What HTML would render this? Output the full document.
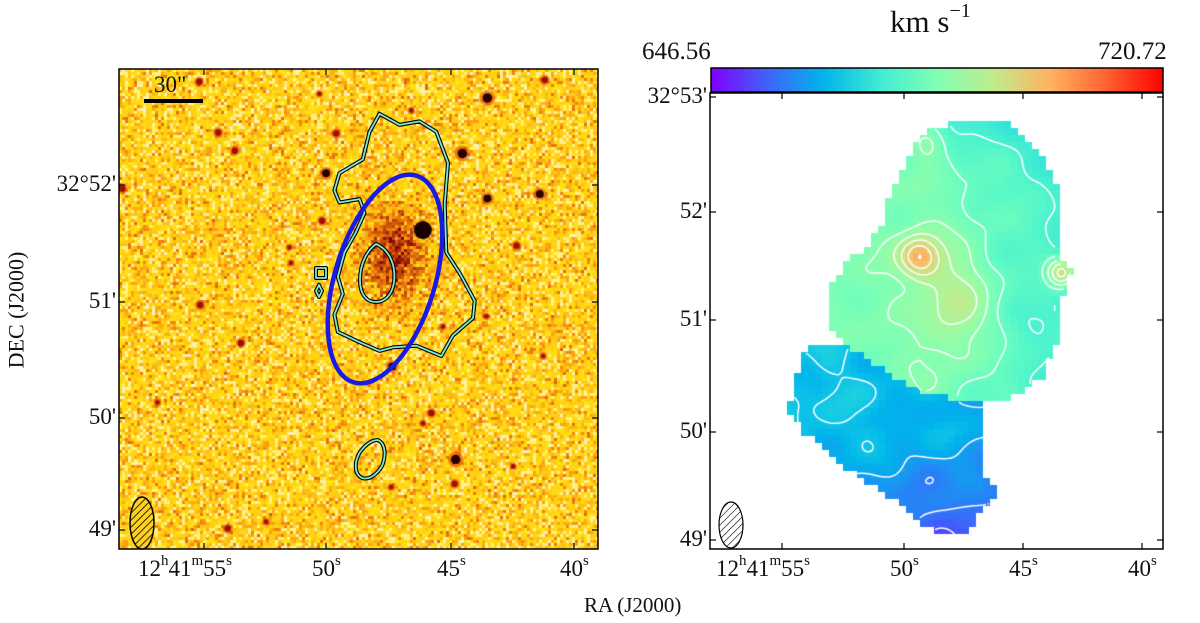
<!DOCTYPE html>
<html><head><meta charset="utf-8"><style>
body{margin:0;background:#fff;width:1200px;height:623px;overflow:hidden;position:relative;font-family:"Liberation Serif",serif;}
.lbl{position:absolute;font-size:23px;color:#111;white-space:nowrap;}
sup{font-size:15px;vertical-align:11px;}
canvas,svg{position:absolute;}
</style></head><body>
<canvas id="optical" width="479" height="480" style="left:119px;top:69px"></canvas>
<canvas id="velmap" width="453" height="456" style="left:710px;top:93px"></canvas>
<svg id="ov" width="1200" height="623" style="left:0;top:0">
<defs>
<pattern id="hatchY" width="5" height="5" patternUnits="userSpaceOnUse" patternTransform="rotate(45)"><rect width="5" height="5" fill="#ffd020"/><line x1="0" y1="0" x2="0" y2="5" stroke="#000" stroke-width="1.6"/></pattern>
<pattern id="hatchW" width="5" height="5" patternUnits="userSpaceOnUse" patternTransform="rotate(45)"><rect width="5" height="5" fill="#fff"/><line x1="0" y1="0" x2="0" y2="5" stroke="#000" stroke-width="1.2"/></pattern>
<linearGradient id="cbar" x1="0" x2="1" y1="0" y2="0">
<stop offset="0" stop-color="#8000ff"/><stop offset="0.125" stop-color="#4062fa"/><stop offset="0.25" stop-color="#00b5eb"/><stop offset="0.375" stop-color="#40ecd4"/><stop offset="0.5" stop-color="#80ffb4"/><stop offset="0.625" stop-color="#c0eb8d"/><stop offset="0.75" stop-color="#ffb360"/><stop offset="0.875" stop-color="#ff6230"/><stop offset="1" stop-color="#ff0000"/>
</linearGradient>
</defs>
<g id="leftover"></g>
<rect x="711" y="68" width="452" height="24" fill="url(#cbar)" stroke="#000" stroke-width="1.5"/>
<rect x="119" y="69" width="479" height="480" fill="none" stroke="#000" stroke-width="1.5"/>
<rect x="710" y="93" width="453" height="456" fill="none" stroke="#000" stroke-width="1.5"/>
<g id="ticks" stroke="#000" stroke-width="1.2"></g>
<ellipse cx="142" cy="523" rx="12" ry="26" fill="url(#hatchY)" stroke="#000" stroke-width="1.5"/>
<ellipse cx="731" cy="525" rx="12" ry="23" fill="url(#hatchW)" stroke="#000" stroke-width="1.2"/>
<line x1="144" y1="101" x2="203" y2="101" stroke="#000" stroke-width="4"/>
</svg>
<div class="lbl" style="left:154px;top:72px;font-size:23px">30"</div>
<div class="lbl" style="left:890px;top:0px;font-size:31px">km s<sup style="font-size:20px;vertical-align:15px">−1</sup></div>
<div class="lbl" style="left:642px;top:38px;font-size:25px">646.56</div>
<div class="lbl" style="left:1098px;top:38px;font-size:25px">720.72</div>
<div class="lbl" style="left:-42px;top:297px;transform:rotate(-90deg);font-size:22px">DEC (J2000)</div>
<div class="lbl" style="left:584px;top:593px;font-size:21px">RA (J2000)</div>
<div id="labels"></div>
<script>
// axis tick definitions
const decLabelsL=["32°52'","51'","50'","49'"];
const decPosL=[185,302,418,530];
const decLabelsR=["32°53'","52'","51'","50'","49'"];
const decPosR=[97,212,320,432,540];
const raLabels=["55","50","45","40"];
const raPosL=[204,326,451,574];
const raPosR=[782,904,1023,1142];

const ticks=document.getElementById('ticks');
const labels=document.getElementById('labels');
function tick(x1,y1,x2,y2){const l=document.createElementNS('http://www.w3.org/2000/svg','line');l.setAttribute('x1',x1);l.setAttribute('y1',y1);l.setAttribute('x2',x2);l.setAttribute('y2',y2);


ticks.appendChild(l);}
function label(html,x,y,name,align){const d=document.createElement('div');d.className='lbl';d.innerHTML=html;d.style.top=y+'px';
if(align==='right'){d.style.right=(1200-x)+'px';}else{d.style.left=x+'px';}


labels.appendChild(d);}
function panelTicks(L,R,T,B,dp,dl,rp){
 dp.forEach((y,i)=>{tick(L,y,L+6,y);tick(R,y,R-6,y);label(dl[i],L-3,y-14,'dec-tick-label','right');});
 rp.forEach((x,i)=>{tick(x,B,x,B-6);tick(x,T,x,T+6);
  const t=i===0?'12<sup>h</sup>41<sup>m</sup>'+raLabels[i]+'<sup>s</sup>':raLabels[i]+'<sup>s</sup>';
  label(t,i===0?x-66:x-14,B+4,'ra-tick-label');});
}
panelTicks(119,598,69,549,decPosL,decLabelsL,raPosL);
panelTicks(710,1163,93,549,decPosR,decLabelsR,raPosR);

// seeded PRNG for image texture
let seed=12345;function rnd(){seed=(seed*1103515245+12345)&0x7fffffff;return seed/0x7fffffff;}
const oc=document.getElementById('optical').getContext('2d');
const zl=(zx,zy)=>[(zx-60)*0.334,(zy-28)*0.345];
const stars=[[1163,112,6],[1088,273,6],[1163,403,5],[1320,390,5],[680,330,5],[668,468,4],[710,215,4],[357,212,4],[407,265,4],[1250,540,4],[303,712,4],[425,822,4],[175,995,3],[995,1025,4],[1068,1160,6],[1065,1230,4],[385,1360,4],[878,890,5],[1335,60,4],[300,65,4],[70,375,4],[935,148,3],[570,545,3],[575,590,3],[1240,1180,3],[500,1340,3],[1330,860,3],[970,1055,3],[1160,745,3],[1030,775,3],[875,1240,3],[660,100,3]];
const gal=zl(880,560);
for(let y=0;y<480;y+=3)for(let x=0;x<479;x+=3){
 let v=rnd()*0.5+rnd()*0.5;
 const dx=(x-gal[0])/30,dy=(y-gal[1])/45;const g=Math.exp(-(dx*dx+dy*dy));
 v=v-g*0.75;
 let r,gr,b;
 if(v>0.68){r=255;gr=240;b=110+(v-0.68)*300;}
 else if(v>0.38){r=255;gr=200+(v-0.38)*100;b=20;}
 else if(v>0.2){r=250;gr=150+(v-0.2)*250;b=20;}
 else{const t=Math.max(v+0.5,0)/0.7;r=130+t*120;gr=t*140;b=10;}
 oc.fillStyle=`rgb(${r|0},${gr|0},${Math.min(b,255)|0})`;oc.fillRect(x,y,3,3);
}
stars.forEach(s=>{const p=zl(s[0],s[1]);oc.fillStyle='rgba(220,50,10,0.5)';oc.beginPath();oc.arc(p[0],p[1],s[2]*1.3,0,7);oc.fill();
 oc.fillStyle=s[2]>=5?'#2a0000':'#a01000';oc.beginPath();oc.arc(p[0],p[1],s[2]*0.8,0,7);oc.fill();});
const bs=zl(970,495);oc.fillStyle='#1a0000';oc.beginPath();oc.arc(bs[0],bs[1],9,0,7);oc.fill();

// overlay contours on left
const lo=document.getElementById('leftover');
function zpt(zx,zy){return [119+(zx-60)*0.334,69+(zy-28)*0.345];}
const outer=[[840,158],[900,190],[960,180],[1010,210],[1045,300],[1035,420],[1040,560],[1080,620],[1125,700],[1120,750],[1060,800],[1025,860],[950,830],[880,835],[840,845],[780,820],[715,790],[705,740],[730,680],[715,630],[735,560],[770,500],[795,445],[780,405],[720,415],[705,380],[720,330],[790,290],[810,210]];
function addPath(d,name){['#000','#7fe8d8'].forEach((c,i)=>{const p=document.createElementNS('http://www.w3.org/2000/svg','path');p.setAttribute('d',d);p.setAttribute('fill','none');p.setAttribute('stroke',c);p.setAttribute('stroke-width',i?1.8:4);p.setAttribute('stroke-linejoin','round');


lo.appendChild(p);});}
addPath('M'+outer.map(p=>zpt(p[0],p[1]).map(v=>v.toFixed(1)).join(',')).join('L')+'Z','hi-contour-outer');
addPath('M376,244 C390,250 396,266 394,282 C392,296 384,302 376,302 C366,302 360,294 360,280 C360,262 368,250 376,244Z','hi-contour-inner');
addPath('M316,268 h10 v10 h-10Z','hi-contour-small');
addPath('M319,285 l3,6 l-3,6 l-3,-6Z','hi-contour-tiny');
addPath('M378,440 C386,444 386,456 382,466 C376,476 368,480 362,478 C354,474 354,462 360,452 C366,444 372,440 378,440Z','hi-contour-south');
const el=document.createElementNS('http://www.w3.org/2000/svg','ellipse');
el.setAttribute('cx',385);el.setAttribute('cy',279);el.setAttribute('rx',50);el.setAttribute('ry',108);el.setAttribute('transform','rotate(17 385 279)');el.setAttribute('fill','none');el.setAttribute('stroke','#1a1ae6');el.setAttribute('stroke-width',4.5);


lo.appendChild(el);

// velocity map
const vc=document.getElementById('velmap').getContext('2d');
const zr=(zx,zy)=>[(zx-65)*0.335,(zy-255)*0.386];
const upper=[[740,340],[905,318],[970,340],[1015,380],[1055,420],[1090,470],[1120,530],[1120,560],[1100,600],[1100,680],[1145,720],[1125,770],[1100,790],[1100,900],[1060,990],[940,1060],[820,1050],[690,1030],[470,910],[410,840],[410,770],[480,690],[540,650],[580,590],[600,510],[640,460],[690,360]];
const lower=[[350,910],[470,905],[690,1030],[880,1040],[880,1095],[880,1230],[925,1290],[925,1305],[880,1340],[820,1400],[755,1400],[700,1370],[610,1310],[510,1250],[440,1210],[380,1160],[340,1130],[300,1090],[310,1020],[340,960]];
function polyPath(pts){vc.beginPath();pts.forEach((p,i)=>{const q=zr(p[0],p[1]);i?vc.lineTo(q[0],q[1]):vc.moveTo(q[0],q[1]);});vc.closePath();}
function inPoly(pts,x,y){polyPath(pts);return vc.isPointInPath(x,y);}
function region(x,y){if(inPoly(upper,x,y))return 1;if(inPoly(lower,x,y))return 2;return 0;}
function cmap(t){t=Math.max(0,Math.min(1,t));const r=Math.min(1,Math.abs(2*t-0.5)),g=Math.sin(Math.PI*t),b=Math.cos(Math.PI*t/2);return [r*255|0,g*255|0,b*255|0];}
function wig(x,y){return 0.022*Math.sin(x/19+y/31)*Math.cos(y/16-x/41)+0.01*Math.sin(x/11)*Math.sin(y/9);}
function field(x,y,rg){
 if(rg===1){const c=zr(690,680),d2=zr(800,800);
  let v=0.5+0.25*Math.exp(-((x-c[0])**2+(y-c[1])**2)/450)+0.14*Math.exp(-((x-d2[0])**2/1100+(y-d2[1])**2/2800));
  v-=0.09*Math.max(0,(x-210)/120);v-=0.05*Math.max(0,(90-y)/40);
  const o=zr(1115,720);v+=0.25*Math.exp(-((x-o[0])**2+(y-o[1])**2)/200);
  const p=zr(720,380);v+=0.1*Math.exp(-((x-p[0])**2+(y-p[1])**2)/300);
  return v+wig(x,y);}
 let v=0.28-0.12*Math.max(0,(y-340)/100)-0.03*Math.max(0,(x-120)/100);
 v-=0.06*Math.exp(-((x-85)**2+(y-380)**2)/150);
 return v+wig(x,y)*1.3;}
const cs=7,W=453,H=456,nx=Math.ceil(W/cs),ny=Math.ceil(H/cs);
for(let j=0;j<ny;j++)for(let i=0;i<nx;i++){const x=i*cs+cs/2,y=j*cs+cs/2;const rg=region(x,y);if(!rg)continue;
 const c=cmap(field(x,y,rg));vc.fillStyle=`rgb(${c[0]},${c[1]},${c[2]})`;vc.fillRect(i*cs,j*cs,cs,cs);}
// marching squares contours
const st=3,gx=Math.ceil(W/st)+1,gy=Math.ceil(H/st)+1;const F=[],R=[];
for(let j=0;j<gy;j++){F[j]=[];R[j]=[];for(let i=0;i<gx;i++){const x=i*st,y=j*st;const rg=region(x,y);R[j][i]=rg;F[j][i]=rg?field(x,y,rg):null;}}
const levels=[];for(let k=0;k<12;k++)levels.push(0.1+k*0.06);
vc.strokeStyle='#fff';vc.lineWidth=1.5;vc.beginPath();
for(let j=0;j<gy-1;j++)for(let i=0;i<gx-1;i++){
 const a=F[j][i],b=F[j][i+1],c=F[j+1][i+1],d=F[j+1][i];
 if(a===null||b===null||c===null||d===null)continue;
 const rr=R[j][i];if(R[j][i+1]!==rr||R[j+1][i+1]!==rr||R[j+1][i]!==rr)continue;
 const x0=i*st,y0=j*st;
 levels.forEach(L=>{const pts=[];
  if((a-L)*(b-L)<0)pts.push([x0+st*(L-a)/(b-a),y0]);
  if((b-L)*(c-L)<0)pts.push([x0+st,y0+st*(L-b)/(c-b)]);
  if((d-L)*(c-L)<0)pts.push([x0+st*(L-d)/(c-d),y0+st]);
  if((a-L)*(d-L)<0)pts.push([x0,y0+st*(L-a)/(d-a)]);
  for(let k=0;k+1<pts.length;k+=2){vc.moveTo(pts[k][0],pts[k][1]);vc.lineTo(pts[k+1][0],pts[k+1][1]);}
 });}
vc.stroke();
</script>
</body></html>
